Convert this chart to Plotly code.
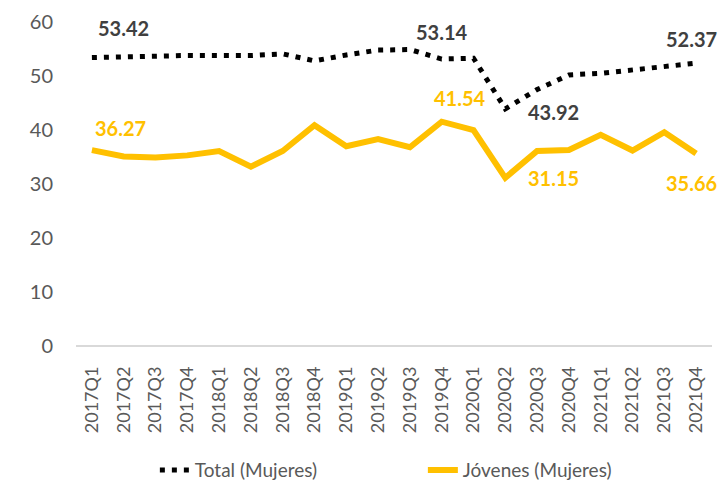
import plotly.graph_objects as go

quarters = ["2017Q1","2017Q2","2017Q3","2017Q4","2018Q1","2018Q2","2018Q3","2018Q4",
            "2019Q1","2019Q2","2019Q3","2019Q4","2020Q1","2020Q2","2020Q3","2020Q4",
            "2021Q1","2021Q2","2021Q3","2021Q4"]
total = [53.42, 53.6, 53.7, 53.8, 53.8, 53.8, 54.1, 52.8, 53.9, 54.8, 54.9, 53.14,
         53.3, 43.92, 47.5, 50.2, 50.5, 51.2, 51.8, 52.37]
jovenes = [36.27, 35.1, 34.9, 35.3, 36.1, 33.2, 36.1, 40.9, 37.0, 38.3, 36.8, 41.54,
           40.0, 31.15, 36.1, 36.3, 39.1, 36.2, 39.6, 35.66]
y_ticks = [0, 10, 20, 30, 40, 50, 60]

FONT = "Lato"
DARK = "#404040"
YEL = "#FFC000"

fig = go.Figure()
fig.add_trace(go.Scatter(x=quarters, y=total, mode="lines", name="Total (Mujeres)",
                         line=dict(color="black", width=5, dash="5px,7px")))
fig.add_trace(go.Scatter(x=quarters, y=jovenes, mode="lines", name="Jóvenes (Mujeres)",
                         line=dict(color=YEL, width=6)))

# data labels: (series, index, color, xshift, yshift)
labels = [
    (total, 0, DARK, 32, 30),
    (total, 11, DARK, 0, 27),
    (total, 13, DARK, 48, -3),
    (total, 19, DARK, -5, 24),
    (jovenes, 0, YEL, 29, 22),
    (jovenes, 11, YEL, 18, 24),
    (jovenes, 13, YEL, 48, 0),
    (jovenes, 19, YEL, -5, -30),
]
for series, i, col, xs, ys in labels:
    fig.add_annotation(x=quarters[i], y=series[i], text=f"{series[i]:.2f}",
                       showarrow=False, xshift=xs, yshift=ys,
                       font=dict(family=FONT, size=20, color=col, weight="bold"))

fig.update_layout(
    width=712, height=472,
    margin=dict(l=68, r=8, t=14, b=134),
    paper_bgcolor="white", plot_bgcolor="white",
    font=dict(family=FONT, color="#595959"),
    showlegend=True,
    legend=dict(orientation="h", x=0.124, xanchor="left",
                yref="container", y=0.021, yanchor="middle",
                font=dict(family=FONT, size=19, color="#595959"),
                entrywidth=223, entrywidthmode="pixels", traceorder="normal"),
)
fig.update_xaxes(type="category", range=[-0.5, 19.5], tickangle=-90,
                 tickfont=dict(family=FONT, size=18, color="#595959"),
                 showgrid=False, showline=False, ticks="", zeroline=False,
                 ticklabelstandoff=16, automargin=False)
fig.update_yaxes(range=[0, 60], tickvals=y_ticks, showgrid=False,
                 tickfont=dict(family=FONT, size=20, color="#595959"),
                 zeroline=True, zerolinecolor="#D9D9D9", zerolinewidth=1.5,
                 showline=False, ticks="", ticklabelstandoff=22, automargin=False)

fig.write_html("out.html")
